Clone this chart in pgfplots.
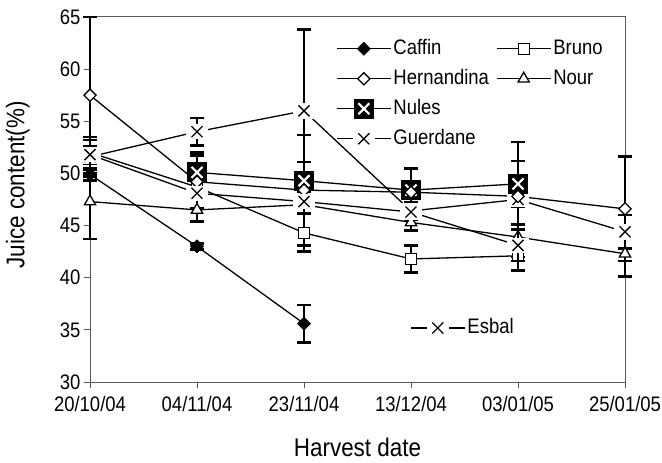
\documentclass[border=0pt]{standalone}
\usepackage{pgfplots}
\pgfplotsset{compat=1.18}
\usepackage{fontspec}
\setmainfont{Liberation Sans}[FakeStretch=0.88]

% X mark on a white patch (lines stop short of the marker, as in the original)
\pgfdeclareplotmark{wx}{%
  \pgfscope
  \pgfpathrectangle{\pgfqpoint{-2\pgfplotmarksize}{-1.4\pgfplotmarksize}}{\pgfqpoint{4\pgfplotmarksize}{2.8\pgfplotmarksize}}%
  \pgfsetfillcolor{white}\pgfusepathqfill
  \endpgfscope
  \pgfpathmoveto{\pgfqpoint{-\pgfplotmarksize}{-\pgfplotmarksize}}%
  \pgfpathlineto{\pgfqpoint{\pgfplotmarksize}{\pgfplotmarksize}}%
  \pgfpathmoveto{\pgfqpoint{-\pgfplotmarksize}{\pgfplotmarksize}}%
  \pgfpathlineto{\pgfqpoint{\pgfplotmarksize}{-\pgfplotmarksize}}%
  \pgfusepathqstroke}
% black square with a white X
\pgfdeclareplotmark{nules}{%
  \pgfscope
  \pgfpathrectangle{\pgfqpoint{-\pgfplotmarksize}{-\pgfplotmarksize}}{\pgfqpoint{2\pgfplotmarksize}{2\pgfplotmarksize}}%
  \pgfsetfillcolor{black}\pgfusepathqfill
  \endpgfscope
  \pgfscope
  \pgfsetstrokecolor{white}\pgfsetlinewidth{2.2pt}%
  \pgfpathmoveto{\pgfqpoint{-0.55\pgfplotmarksize}{-0.55\pgfplotmarksize}}%
  \pgfpathlineto{\pgfqpoint{0.55\pgfplotmarksize}{0.55\pgfplotmarksize}}%
  \pgfpathmoveto{\pgfqpoint{-0.55\pgfplotmarksize}{0.55\pgfplotmarksize}}%
  \pgfpathlineto{\pgfqpoint{0.55\pgfplotmarksize}{-0.55\pgfplotmarksize}}%
  \pgfusepathqstroke
  \endpgfscope}

\pgfplotsset{
  ser/.style={black, line width=1.3pt},
  caffin/.style={ser, mark=square*, mark size=4.3pt, mark options={rotate=45, fill=black, solid}},
  bruno/.style={ser, mark=square*, mark size=5.5pt, mark options={fill=white, solid}},
  hern/.style={ser, mark=square*, mark size=4.3pt, mark options={rotate=45, fill=white, solid}},
  nour/.style={ser, mark=triangle*, mark size=6.5pt, mark options={fill=white, solid}},
  nules/.style={ser, mark=nules, mark size=10pt},
  xser/.style={ser, mark=wx, mark size=5.5pt},
  eb/.style={error bars/y dir=both, error bars/y explicit,
    error bars/error bar style={line width=2.6pt, black},
    error bars/error mark options={rotate=90, line width=2.6pt, mark size=7pt, black}},
  myleg/.style={
    legend image code/.code={%
      \draw[##1, mark=none] (0pt,0pt) -- (54pt,0pt);
      \draw[##1, only marks] plot coordinates {(27pt,0pt)};}},
  base/.style={
    scale only axis, width=535pt, height=365pt,
    xmin=0, xmax=5, ymin=30, ymax=65, clip=false,
    myleg,
    legend cell align=left,
  },
}

\begin{document}
\begin{tikzpicture}
\begin{axis}[base, name=ax,
  xtick={0,1,2,3,4,5},
  xticklabels={20/10/04,04/11/04,23/11/04,13/12/04,03/01/05,25/01/05},
  ytick={30,35,40,45,50,55,60,65},
  axis line style={black!65, line width=1pt},
  tick style={black!65, line width=1pt},
  tick align=outside, xtick pos=bottom, ytick pos=left,
  major tick length=6pt,
  ticklabel style={font=\fontsize{21}{24}\selectfont},
  xticklabel style={yshift=-5pt},
  /pgf/number format/assume math mode=true,
  xlabel={Harvest date}, ylabel={Juice content(\%)},
  label style={font=\fontsize{25.5}{28}\selectfont},
  xlabel style={at={(axis description cs:0.5,-0.178)}, anchor=center},
  ylabel style={at={(axis description cs:-0.135,0.54)}, anchor=center},
  legend columns=2,
  legend style={draw=none, fill=none, at={(axis description cs:0.4598,0.945)}, anchor=north west,
    inner sep=0pt, row sep=7pt, font=\fontsize{21}{24}\selectfont,
    nodes={inner sep=2pt, text height=15pt, text depth=4pt},
    /tikz/every even column/.append style={column sep=5pt}},
]
% Caffin
\addplot[caffin, forget plot, eb] coordinates {
  (0,49.9) +- (0,0.6)
  (1,43.0) +- (0,0.3)
  (2,35.6) +- (0,1.8)
};
% Bruno
\addplot[bruno, forget plot, eb] coordinates {
  (0,52.0) +- (0,0.6)
  (1,48.7) +- (0,1.0)
  (2,44.3) +- (0,1.8)
  (3,41.8) +- (0,1.3)
  (4,42.1) +- (0,1.4)
};
% Nour
\addplot[nour, forget plot, eb] coordinates {
  (0,47.3) +- (0,3.6)
  (1,46.5) +- (0,1.1)
  (2,47.0) +- (0,0.8)
  (3,45.3) +- (0,0.8)
  (4,43.9) +- (0,1.2)
  (5,42.3) +- (0,2.2)
};
% Guerdane
\addplot[xser, forget plot, eb] coordinates {
  (0,51.6) +- (0,1.9)
  (1,54.0) +- (0,1.3)
  (2,56.0) +- (0,7.8)
  (3,46.4) +- (0,0.8)
  (4,47.5) +- (0,5.5)
  (5,44.4) +- (0,1.6)
};
% Nules
\addplot[nules, forget plot, eb] coordinates {
  (1,50.1) +- (0,1.9)
  (2,49.3) +- (0,1.8)
  (3,48.4) +- (0,2.1)
  (4,49.0) +- (0,2.2)
};
% Hernandina
\addplot[hern, forget plot, eb] coordinates {
  (0,57.5) +- (0,7.5)
  (1,49.2) +- (0,2.5)
  (2,48.4) +- (0,5.3)
  (3,48.2) +- (0,1.0)
  (4,47.8) +- (0,1.0)
  (5,46.6) +- (0,5.0)
};
\addlegendimage{caffin}\addlegendentry{Caffin}
\addlegendimage{bruno}\addlegendentry{Bruno}
\addlegendimage{hern}\addlegendentry{Hernandina}
\addlegendimage{nour}\addlegendentry{Nour}
\addlegendimage{nules}\addlegendentry{Nules}
\addlegendimage{empty legend}\addlegendentry{}
\addlegendimage{xser}\addlegendentry{Guerdane}
\end{axis}
\begin{axis}[base, hide axis,
  legend style={draw=none, fill=none, at={(axis description cs:0.598,0.18)}, anchor=north west,
    inner sep=0pt, font=\fontsize{21}{24}\selectfont,
    nodes={inner sep=2pt, text height=15pt, text depth=4pt}},
]
% Esbal
\addplot[xser, eb] coordinates {
  (0,51.8) +- (0,1.4)
  (1,48.1) +- (0,0.6)
  (2,47.3) +- (0,0.6)
  (3,46.3) +- (0,0.6)
  (4,43.1) +- (0,1.5)
};
\addlegendentry{Esbal}
\end{axis}
\pgfresetboundingbox
\path[use as bounding box] ([shift={(-90pt,-80pt)}]ax.south west) rectangle ([shift={(37pt,17pt)}]ax.north east);
\end{tikzpicture}
\end{document}
